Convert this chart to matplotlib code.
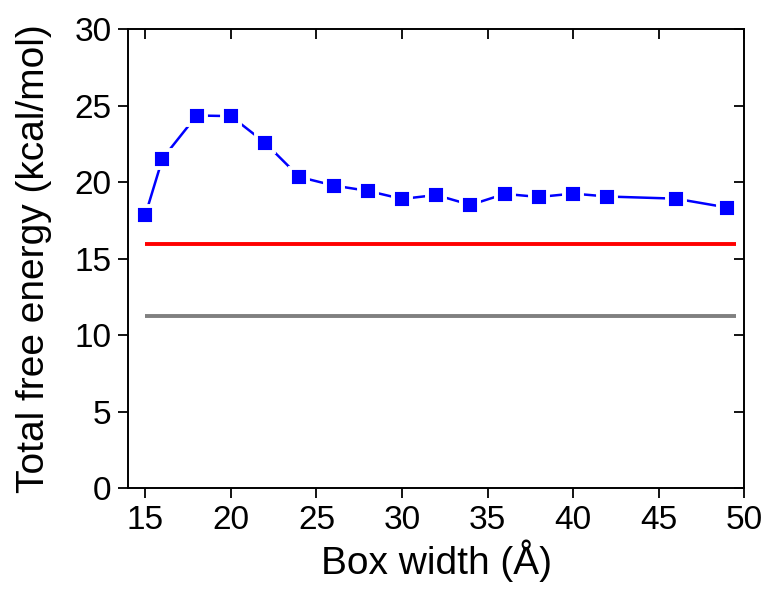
import matplotlib
matplotlib.use('Agg')
import matplotlib.pyplot as plt

# box width (angstrom) and total free energy (kcal/mol)
box_width = [15, 16, 18, 20, 22, 24, 26, 28, 30, 32, 34, 36, 38, 40, 42, 46, 49]
free_energy = [17.87, 21.55, 24.37, 24.33, 22.58, 20.35, 19.79, 19.44, 18.91,
               19.17, 18.52, 19.24, 19.04, 19.26, 19.07, 18.93, 18.35]

# reference levels
ref_x = [15, 49.5]
red_level = 15.95
gray_level = 11.24

plt.rcParams['font.family'] = ['Liberation Sans', 'DejaVu Sans']

fig = plt.figure(figsize=(7.68, 5.89), dpi=100)
ax = fig.add_axes([0.167, 0.1715, 0.802, 0.7785])

ax.plot(ref_x, [red_level, red_level], color='#ff0000', lw=2.8, solid_capstyle='butt')
ax.plot(ref_x, [gray_level, gray_level], color='#808080', lw=2.8, solid_capstyle='butt')
ax.plot(box_width, free_energy, color='#0000ff', lw=1.8, marker='s', markersize=13,
        markerfacecolor='#0000ff', markeredgecolor='white', markeredgewidth=2.8)

ax.set_xlim(14, 50)
ax.set_ylim(0, 30)
ax.set_xticks(range(15, 51, 5))
ax.set_yticks(range(0, 31, 5))

# outward ticks on left/bottom, inward mirrored ticks on top/right
ax.tick_params(axis='both', which='major', direction='out', length=7, width=1.3,
               labelsize=24, pad=5)
ax.tick_params(top=True, right=True)
for t in ax.xaxis.get_major_ticks():
    t.tick2line.set_marker(3)
for t in ax.yaxis.get_major_ticks():
    t.tick2line.set_marker(0)

for s in ax.spines.values():
    s.set_linewidth(1.4)

ax.set_xlabel('Box width (Å)', fontsize=28, labelpad=3)
ax.set_ylabel('Total free energy (kcal/mol)', fontsize=28, labelpad=16)

fig.savefig('out.png', dpi=100)
